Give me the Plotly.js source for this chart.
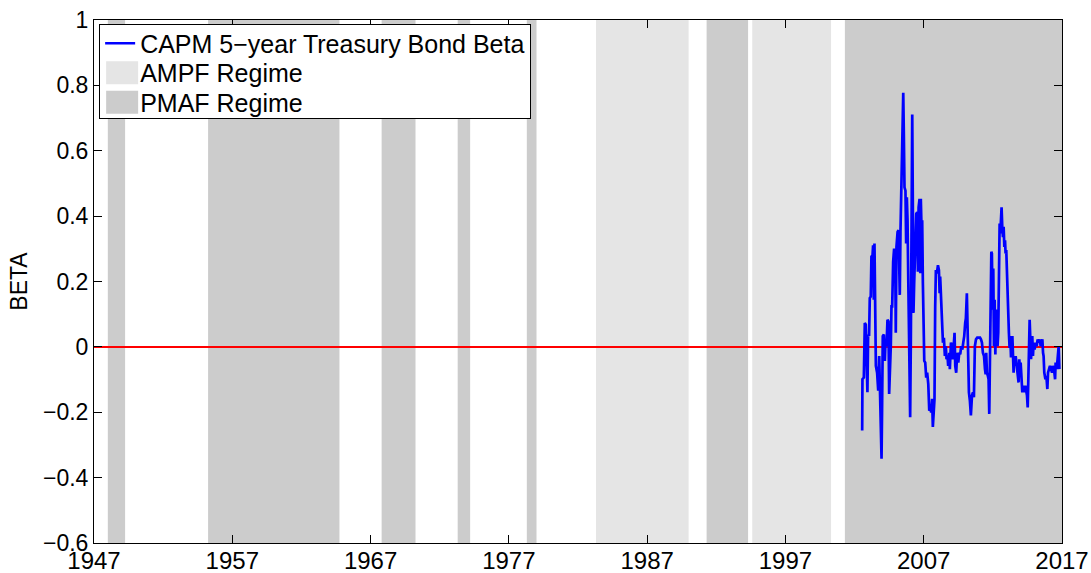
<!DOCTYPE html>
<html>
<head>
<meta charset="utf-8">
<script src="https://cdn.plot.ly/plotly-3.0.1.min.js"></script>
<style>html,body{margin:0;padding:0;background:#fff;}#chart{width:1091px;height:573px;}</style>
</head>
<body>
<div id="chart"></div>
<script>
// Regime periods (years)
const ampfStart = [1983.3, 1994.6];
const ampfEnd   = [1990.0, 2000.3];
const pmafStart = [1948.0, 1955.25, 1967.8, 1973.3, 1978.3, 1991.3, 2001.3];
const pmafEnd   = [1949.25, 1964.75, 1970.25, 1974.2, 1979.0, 1994.3, 2017.0];

// CAPM 5-year Treasury bond beta series
const betaYears = [2002.55,2002.57,2002.67,2002.74,2002.81,2002.86,2002.93,2002.98,2003.05,2003.10,2003.17,2003.22,2003.30,2003.34,2003.39,2003.44,2003.49,2003.54,2003.63,2003.71,2003.78,2003.83,2003.90,2003.95,2003.99,2004.04,2004.12,2004.19,2004.24,2004.31,2004.38,2004.45,2004.50,2004.55,2004.62,2004.67,2004.72,2004.79,2004.86,2004.94,2004.98,2005.03,2005.11,2005.18,2005.23,2005.27,2005.32,2005.37,2005.42,2005.47,2005.52,2005.56,2005.61,2005.68,2005.73,2005.78,2005.83,2005.88,2005.93,2005.97,2006.02,2006.07,2006.12,2006.17,2006.22,2006.26,2006.31,2006.38,2006.46,2006.53,2006.58,2006.63,2006.70,2006.75,2006.79,2006.84,2006.89,2006.94,2006.99,2007.04,2007.11,2007.18,2007.25,2007.33,2007.40,2007.47,2007.54,2007.61,2007.66,2007.74,2007.78,2007.83,2007.88,2007.95,2008.03,2008.10,2008.15,2008.19,2008.27,2008.31,2008.39,2008.46,2008.53,2008.60,2008.65,2008.72,2008.77,2008.85,2008.89,2008.97,2009.04,2009.11,2009.18,2009.23,2009.28,2009.35,2009.42,2009.50,2009.57,2009.64,2009.71,2009.79,2009.86,2009.93,2010.00,2010.05,2010.12,2010.17,2010.22,2010.27,2010.34,2010.41,2010.49,2010.56,2010.63,2010.70,2010.78,2010.87,2010.97,2011.07,2011.14,2011.21,2011.28,2011.36,2011.43,2011.48,2011.52,2011.57,2011.64,2011.69,2011.74,2011.79,2011.84,2011.89,2011.93,2011.98,2012.03,2012.08,2012.13,2012.18,2012.22,2012.27,2012.34,2012.39,2012.44,2012.49,2012.54,2012.59,2012.63,2012.68,2012.73,2012.78,2012.83,2012.88,2012.92,2012.97,2013.02,2013.07,2013.12,2013.16,2013.21,2013.26,2013.31,2013.36,2013.41,2013.45,2013.50,2013.55,2013.60,2013.65,2013.72,2013.79,2013.86,2013.91,2013.96,2014.01,2014.08,2014.13,2014.20,2014.27,2014.35,2014.42,2014.47,2014.52,2014.56,2014.61,2014.66,2014.71,2014.76,2014.81,2014.85,2014.90,2014.95,2015.02,2015.10,2015.17,2015.24,2015.31,2015.39,2015.46,2015.51,2015.58,2015.63,2015.67,2015.72,2015.80,2015.87,2015.94,2015.99,2016.06,2016.13,2016.21,2016.28,2016.33,2016.40,2016.45,2016.50,2016.54,2016.62,2016.66,2016.71,2016.76,2016.81];
const betaValues = [-0.256,-0.099,-0.094,0.073,0.068,-0.048,-0.139,0.038,0.033,0.149,0.154,0.276,0.281,0.311,0.144,0.316,0.185,-0.058,-0.079,-0.134,-0.028,-0.134,-0.261,-0.342,-0.190,0.033,0.038,-0.043,0.023,0.002,0.083,0.078,-0.144,-0.099,0.002,0.124,0.124,0.260,0.301,0.265,0.043,0.306,0.352,0.357,0.265,0.159,0.352,0.458,0.549,0.711,0.777,0.660,0.488,0.478,0.316,0.458,0.387,0.215,0.104,-0.058,-0.215,0.023,0.336,0.711,0.387,0.104,0.195,0.301,0.407,0.412,0.230,0.427,0.453,0.225,0.453,0.367,0.387,0.195,0.023,-0.043,-0.048,-0.094,-0.079,-0.114,-0.195,-0.190,-0.200,-0.159,-0.245,-0.200,-0.159,0.124,0.235,0.225,0.250,0.235,0.164,0.215,0.124,0.053,0.013,0.028,-0.028,0.002,-0.038,-0.028,-0.058,-0.018,-0.068,0.013,0.002,-0.038,0.038,0.043,-0.058,-0.079,-0.018,-0.048,-0.018,-0.023,0.002,-0.008,0.013,0.033,0.073,0.088,0.164,0.043,-0.048,-0.139,-0.165,-0.210,-0.149,-0.139,-0.154,0.002,0.023,0.028,0.028,0.028,0.023,0.013,-0.018,-0.028,-0.068,-0.084,-0.018,-0.079,-0.089,-0.099,-0.205,0.013,0.043,0.291,0.286,0.114,0.240,0.002,0.144,-0.023,0.114,0.043,0.002,0.043,0.185,0.377,0.347,0.407,0.427,0.367,0.336,0.367,0.306,0.326,0.286,0.296,0.215,0.205,0.124,0.043,-0.003,0.033,-0.028,-0.028,0.033,-0.058,-0.079,-0.028,-0.058,-0.028,-0.058,-0.068,-0.109,-0.038,-0.068,-0.048,-0.109,-0.139,-0.119,-0.139,-0.119,-0.134,-0.149,-0.185,-0.129,-0.058,0.083,0.023,-0.038,0.002,0.033,-0.028,0.013,-0.008,0.013,0.002,0.023,0.013,0.023,0.002,0.013,0.023,-0.018,-0.028,-0.079,-0.099,-0.089,-0.129,-0.079,-0.068,-0.058,-0.068,-0.079,-0.058,-0.068,-0.079,-0.099,-0.048,-0.068,-0.038,-0.008,0.002,-0.068];

// Axis
const xRange = [1947, 2017];
const yRange = [-0.6, 1];
const xTicks = [1947, 1957, 1967, 1977, 1987, 1997, 2007, 2017];
const yTicks = [-0.6, -0.4, -0.2, 0, 0.2, 0.4, 0.6, 0.8, 1];
const yTickText = ['\u22120.6', '\u22120.4', '\u22120.2', '0', '0.2', '0.4', '0.6', '0.8', '1'];

function regimeBar(starts, ends, name, color, rank) {
  return {
    type: 'bar', name: name, legendrank: rank,
    x: starts.map((s, i) => (s + ends[i]) / 2),
    width: starts.map((s, i) => ends[i] - s),
    base: starts.map(() => yRange[0]),
    y: starts.map(() => yRange[1] - yRange[0]),
    marker: { color: color, line: { width: 0 } },
    hoverinfo: 'skip'
  };
}

const traces = [
  regimeBar(ampfStart, ampfEnd, 'AMPF Regime', '#e5e5e5', 2),
  regimeBar(pmafStart, pmafEnd, 'PMAF Regime', '#cccccc', 3),
  { type: 'scatter', mode: 'lines', x: xRange, y: [0, 0], line: { color: '#ff0000', width: 2 }, showlegend: false, hoverinfo: 'skip' },
  { type: 'scatter', mode: 'lines', name: 'CAPM 5\u2212year Treasury Bond Beta', legendrank: 1,
    x: betaYears, y: betaValues, line: { color: '#0000ff', width: 2.7 } }
];

const fontFam = '"Liberation Sans", Arial, Helvetica, sans-serif';
const layout = {
  width: 1091, height: 573,
  margin: { l: 94, r: 29, t: 20, b: 30 },
  paper_bgcolor: '#ffffff', plot_bgcolor: '#ffffff',
  font: { family: fontFam, size: 23, color: '#000' },
  barmode: 'overlay',
  showlegend: true,
  legend: {
    x: 0.005, y: 0.992, xanchor: 'left', yanchor: 'top',
    bgcolor: '#ffffff', bordercolor: '#000', borderwidth: 1.3,
    font: { family: fontFam, size: 25, color: '#000' },
    tracegroupgap: 0, itemwidth: 30
  },
  xaxis: {
    range: xRange, tickmode: 'array', tickvals: xTicks,
    ticks: 'inside', ticklen: 8, tickcolor: '#000', tickwidth: 1,
    showline: true, linecolor: '#000', linewidth: 1, mirror: 'ticks',
    showgrid: false, zeroline: false, ticklabelstandoff: -4,
    tickfont: { family: fontFam, size: 24, color: '#000' }
  },
  yaxis: {
    range: yRange, tickmode: 'array', tickvals: yTicks, ticktext: yTickText,
    ticks: 'inside', ticklen: 8, tickcolor: '#000', tickwidth: 1,
    showline: true, linecolor: '#000', linewidth: 1, mirror: 'ticks',
    showgrid: false, zeroline: false,
    tickfont: { family: fontFam, size: 23, color: '#000' },
    title: { text: 'BETA', font: { family: fontFam, size: 23, color: '#000' }, standoff: 8 }
  }
};

function parseTranslate(t) {
  const m = /translate\(\s*([-\d.e]+)[ ,]+([-\d.e]+)\s*\)/.exec(t || '');
  return m ? [parseFloat(m[1]), parseFloat(m[2])] : [0, 0];
}

Plotly.newPlot('chart', traces, layout, { staticPlot: true, displayModeBar: false }).then(function (gd) {
  // enlarge the legend swatches for the regime bars
  gd.querySelectorAll('.legend .legendpoints .legendbar path, .legend .legendpoints path.legendundefined').forEach(function (p) {
    p.setAttribute('d', 'M18,11.5H-14V-11.5H18Z');
  });
  // tighten legend row spacing (rows ~30px apart, as in the reference)
  const items = Array.from(gd.querySelectorAll('.legend .traces'));
  const pos = items.map(g => parseTranslate(g.getAttribute('transform')));
  const order = pos.map((p, i) => i).sort((a, b) => pos[a][1] - pos[b][1]);
  const y0 = pos[order[0]][1] - 5;
  const rowGap = 29.5;
  order.forEach((idx, k) => {
    items[idx].setAttribute('transform', 'translate(' + pos[idx][0] + ',' + (y0 + k * rowGap) + ')');
  });
  const bg = gd.querySelector('.legend .bg');
  if (bg) bg.setAttribute('height', 94);
});
</script>
</body>
</html>
